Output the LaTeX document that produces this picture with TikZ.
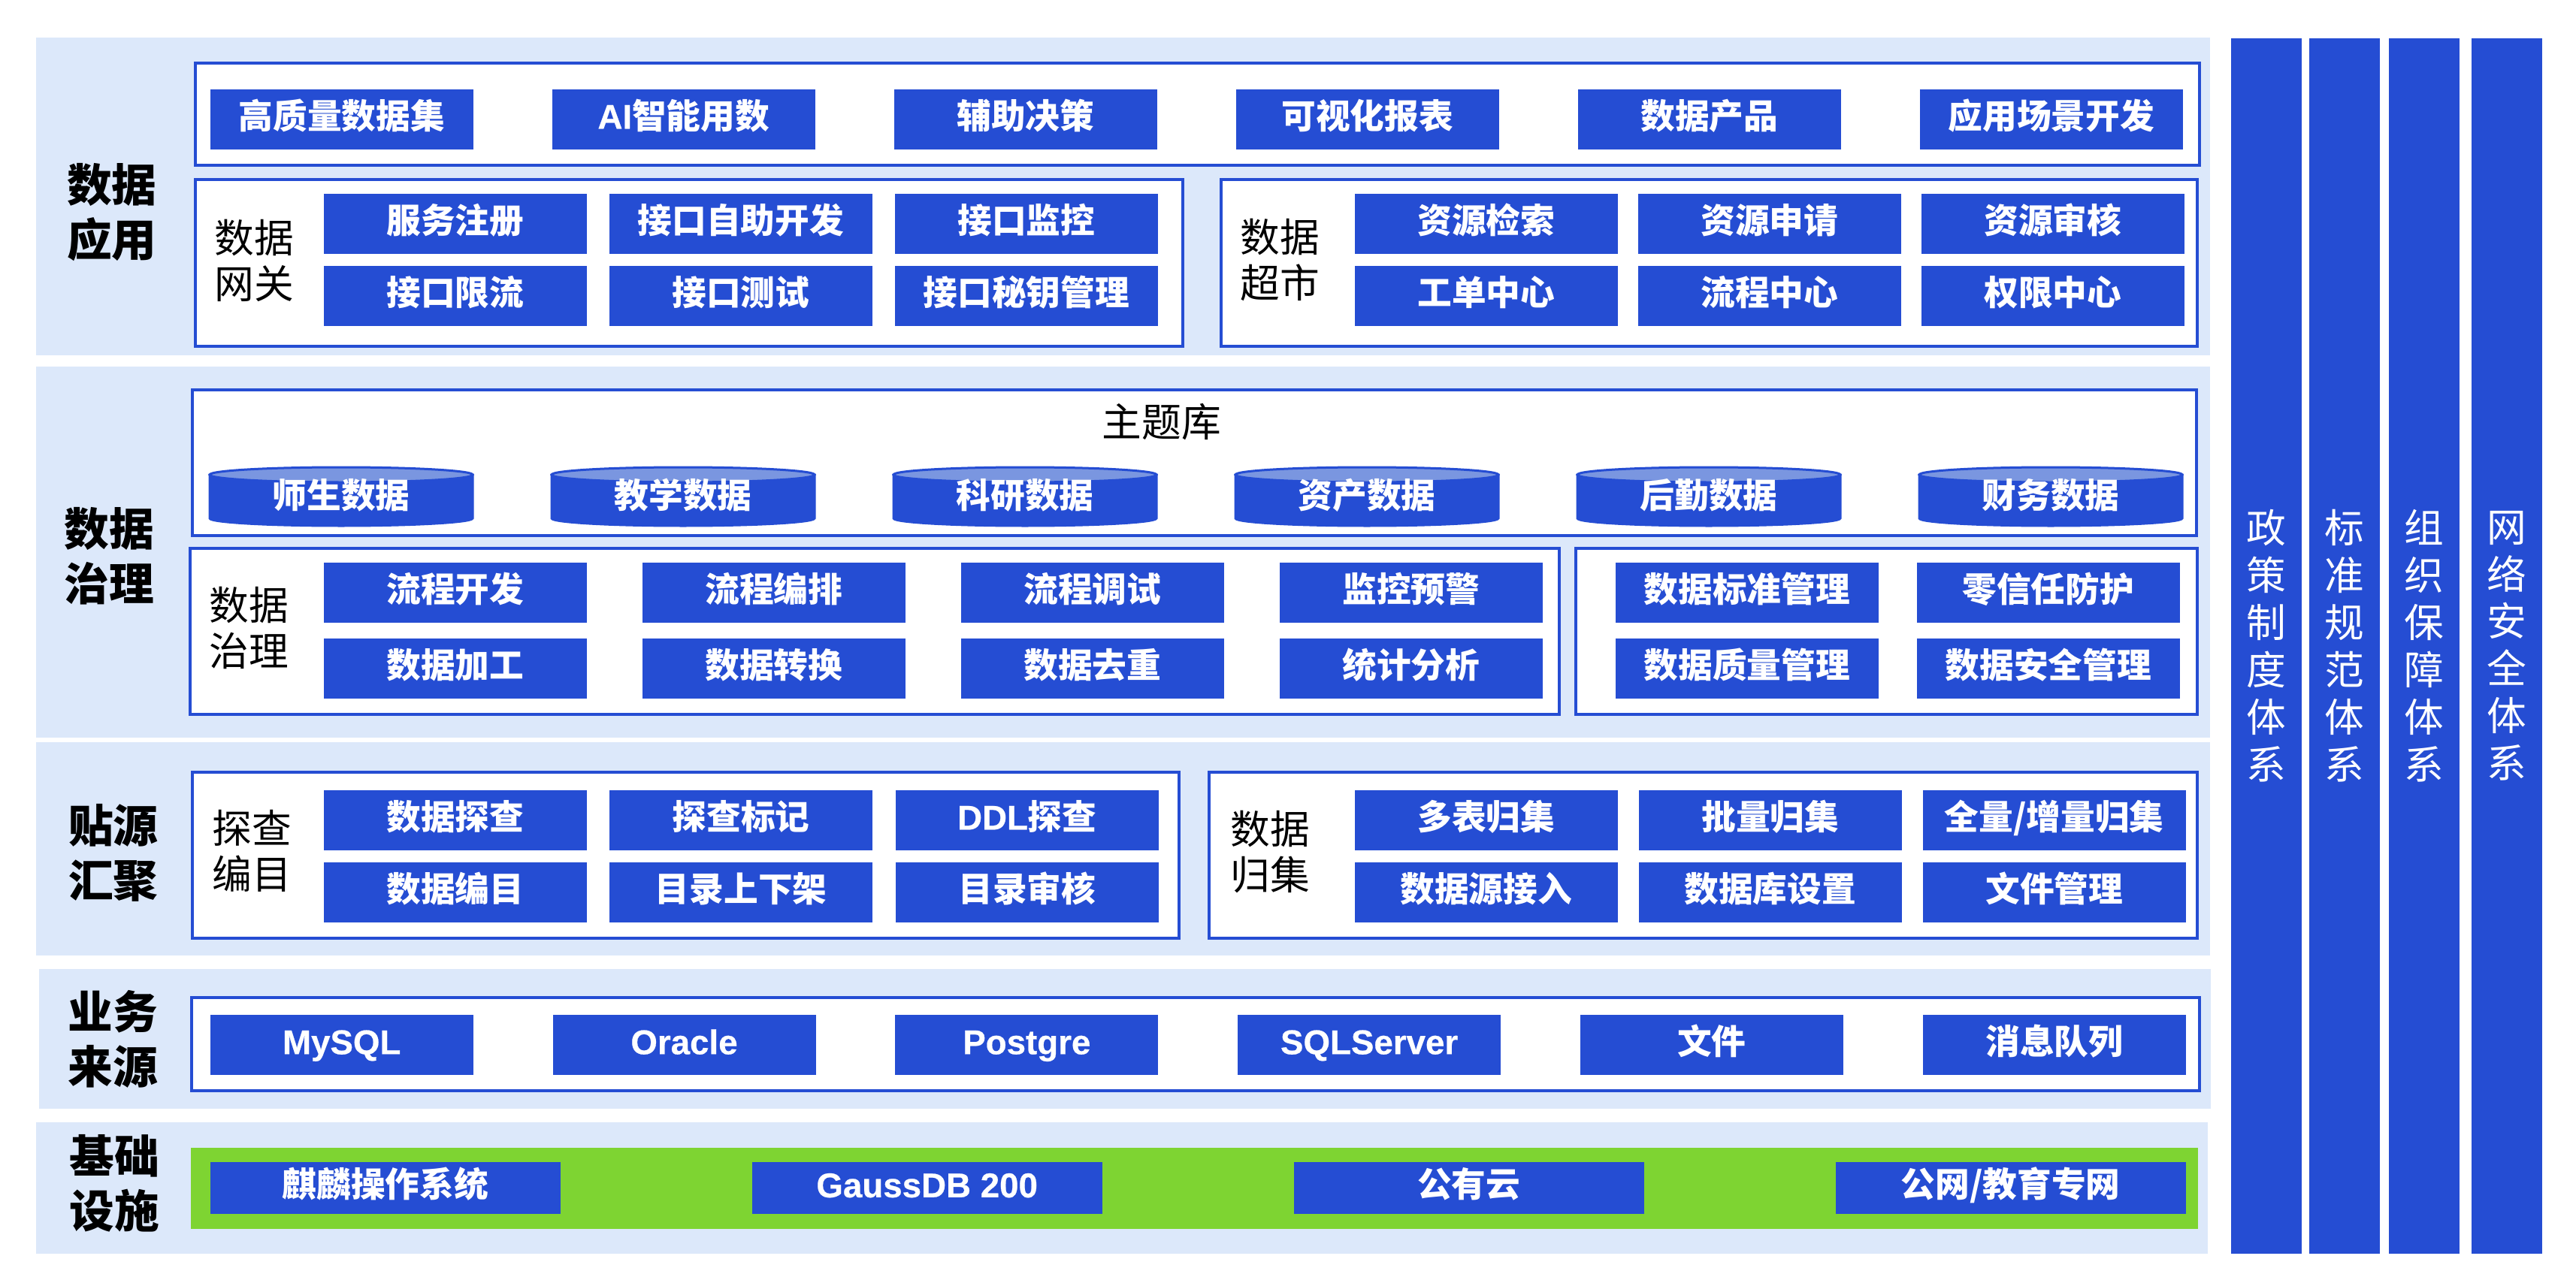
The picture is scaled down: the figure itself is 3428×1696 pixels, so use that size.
\documentclass[tikz,border=0pt]{standalone}
\usepackage{fontspec}
\setmainfont{Noto Sans CJK SC}
\newfontfamily\enfont{Liberation Sans}[FakeBold=0.5]
\newcommand{\lat}[1]{{\enfont #1}}
\definecolor{archblue}{RGB}{37,77,211}
\definecolor{bandbg}{RGB}{220,232,250}
\definecolor{infragreen}{RGB}{126,212,50}
\definecolor{dbtop}{RGB}{122,150,224}

\begin{document}
\begin{tikzpicture}[x=0.1mm,y=-0.1mm,
    band/.style={fill=bandbg},
    panel/.style={draw=archblue,line width=0.4mm,fill=white},
    cell/.style={fill=archblue,text=white,minimum width=35mm,minimum height=8mm,inner sep=0pt,text height=0.84em,text depth=0.12em,anchor=north west,font=\fontsize{13pt}{15pt}\selectfont\bfseries},
    wide/.style={cell,minimum width=46.6mm,minimum height=6.9mm},
    dbtext/.style={text=white,inner sep=0pt,text height=0.84em,text depth=0.12em,font=\fontsize{13pt}{15pt}\selectfont\bfseries},
    bandlabel/.style={align=center,font=\fontsize{17pt}{20.8pt}\selectfont\bfseries},
    panellabel/.style={align=center,font=\fontsize{15pt}{17.3pt}\selectfont},
    pillar/.style={fill=archblue,text=white,align=center,inner sep=0pt,anchor=north west,minimum width=9.4mm,minimum height=161.8mm,font=\fontsize{15pt}{17.9pt}\selectfont}]

\fill[white] (0,0) rectangle (3428,1696);
\useasboundingbox (0,0) rectangle (3428,1696);

% 数据应用
\fill[band] (48,50) rectangle (2941,473);
\node[bandlabel] (appl) at (149,283) {数据\\应用};
\draw[panel] (260,84) rectangle (2927,220);
\foreach \i/\t in {0/高质量数据集,1/\lat{AI}智能用数,2/辅助决策,3/可视化报表,4/数据产品,5/应用场景开发}
    \node[cell] (app\i) at (279+455*\i,118) {\t};

\draw[panel] (260,239) rectangle (1574,461);
\node[panellabel] (gwlabel) at (338,347) {数据\\网关};
\foreach \i/\t in {0/服务注册,1/接口自助开发,2/接口监控}
    \node[cell] (gwa\i) at (430+380*\i,257) {\t};
\foreach \i/\t in {0/接口限流,1/接口测试,2/接口秘钥管理}
    \node[cell] (gwb\i) at (430+380*\i,353) {\t};

\draw[panel] (1625,239) rectangle (2924,461);
\node[panellabel] (mklabel) at (1703,346) {数据\\超市};
\foreach \i/\t in {0/资源检索,1/资源申请,2/资源审核}
    \node[cell] (mka\i) at (1802+377*\i,257) {\t};
\foreach \i/\t in {0/工单中心,1/流程中心,2/权限中心}
    \node[cell] (mkb\i) at (1802+377*\i,353) {\t};

% 数据治理
\fill[band] (48,488) rectangle (2941,982);
\node[bandlabel] (govl) at (145,740) {数据\\治理};
\draw[panel] (256,519) rectangle (2923,713);
\node[panellabel] (topic) at (1546,562) {主题库};
\foreach \i/\t in {0/师生数据,1/教学数据,2/科研数据,3/资产数据,4/后勤数据,5/财务数据}{
    \filldraw[archblue,line width=0.3mm] (279+455*\i,632) -- (279+455*\i,690)
        arc[start angle=180,end angle=360,x radius=17.5mm,y radius=1mm] -- (629+455*\i,632) -- cycle;
    \draw[archblue,fill=dbtop,line width=0.3mm] (454+455*\i,632) ellipse [x radius=17.5mm,y radius=1mm];
    \node[dbtext] (db\i) at (454+455*\i,664) {\t};
}

\draw[panel] (253,730) rectangle (2075,951);
\node[panellabel] (govlabel) at (331,836) {数据\\治理};
\foreach \i/\t in {0/流程开发,1/流程编排,2/流程调试,3/监控预警}
    \node[cell] (gva\i) at (430+424*\i,748) {\t};
\foreach \i/\t in {0/数据加工,1/数据转换,2/数据去重,3/统计分析}
    \node[cell] (gvb\i) at (430+424*\i,849) {\t};

\draw[panel] (2097,730) rectangle (2924,951);
\foreach \i/\t in {0/数据标准管理,1/零信任防护}
    \node[cell] (mga\i) at (2149+401*\i,748) {\t};
\foreach \i/\t in {0/数据质量管理,1/数据安全管理}
    \node[cell] (mgb\i) at (2149+401*\i,849) {\t};

% 贴源汇聚
\fill[band] (48,988) rectangle (2941,1272);
\node[bandlabel] (odsl) at (151,1135) {贴源\\汇聚};
\draw[panel] (256,1028) rectangle (1569,1249);
\node[panellabel] (exlabel) at (335,1133) {探查\\编目};
\foreach \i/\t in {0/数据探查,1/探查标记,2/\lat{DDL}探查}
    \node[cell] (exa\i) at (430+380.5*\i,1051) {\t};
\foreach \i/\t in {0/数据编目,1/目录上下架,2/目录审核}
    \node[cell] (exb\i) at (430+380.5*\i,1147) {\t};

\draw[panel] (1609,1028) rectangle (2924,1249);
\node[panellabel] (colabel) at (1690,1134) {数据\\归集};
\foreach \i/\t in {0/多表归集,1/批量归集,2/{全量/增量归集}}
    \node[cell] (coa\i) at (1802+378*\i,1051) {\t};
\foreach \i/\t in {0/数据源接入,1/数据库设置,2/文件管理}
    \node[cell] (cob\i) at (1802+378*\i,1147) {\t};

% 业务来源
\fill[band] (52,1290) rectangle (2942,1476);
\node[bandlabel] (srcl) at (150,1383) {业务\\来源};
\draw[panel] (255,1328) rectangle (2927,1452);
\foreach \i/\t in {0/\lat{MySQL},1/\lat{Oracle},2/\lat{Postgre},3/\lat{SQLServer},4/文件,5/消息队列}
    \node[cell] (src\i) at (279+455.8*\i,1350) {\t};

% 基础设施
\fill[band] (48,1494) rectangle (2938,1669);
\node[bandlabel] (infl) at (152,1575) {基础\\设施};
\fill[infragreen] (254,1528) rectangle (2925,1636);
\foreach \i/\t in {0/麒麟操作系统,1/\lat{GaussDB 200},2/公有云,3/{公网/教育专网}}
    \node[wide] (inf\i) at (279+721*\i,1546) {\t};

% 保障体系
\foreach \i/\x/\t in {0/2968/{政\\策\\制\\度\\体\\系},1/3072/{标\\准\\规\\范\\体\\系},2/3178/{组\\织\\保\\障\\体\\系},3/3288/{网\\络\\安\\全\\体\\系}}
    \node[pillar] (pil\i) at (\x,50) {\t};

\end{tikzpicture}
\end{document}
